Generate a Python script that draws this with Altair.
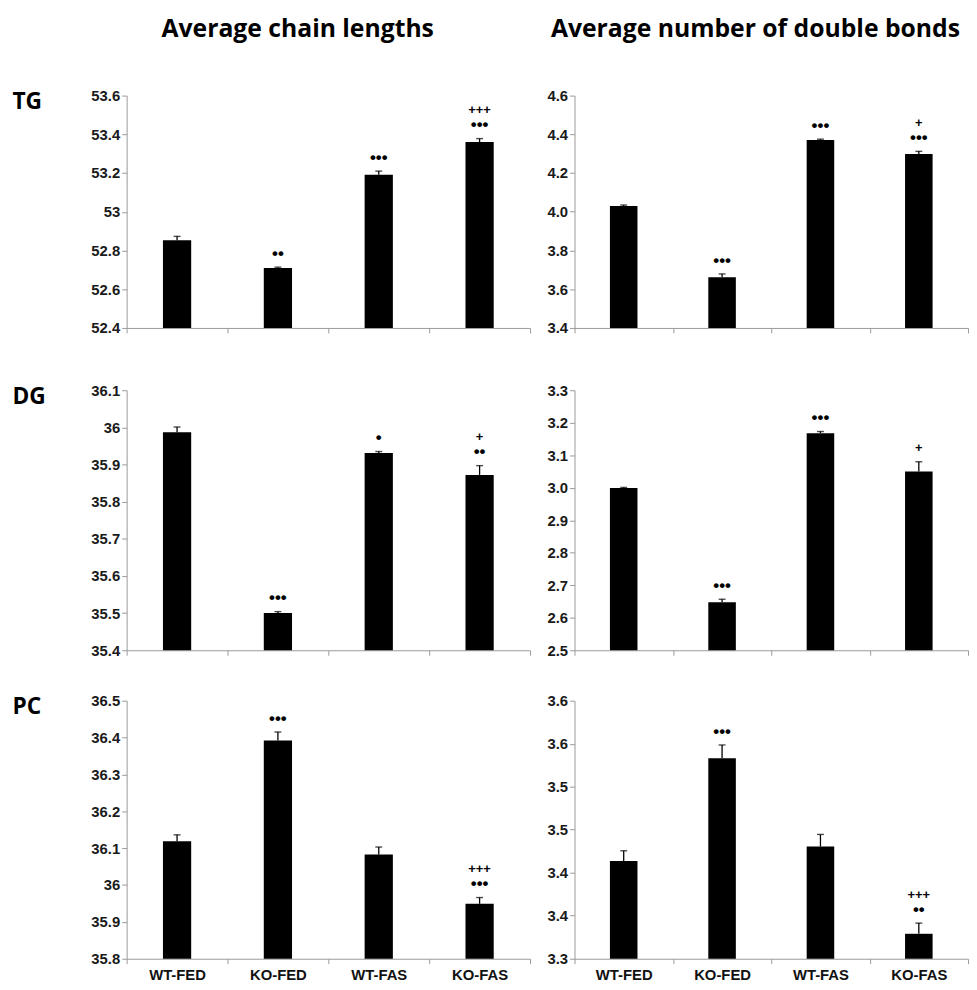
import altair as alt
import pandas as pd

groups = ["WT-FED", "KO-FED", "WT-FAS", "KO-FAS"]

# TG
tg_len = [52.853, 52.709, 53.191, 53.360]
tg_len_err = [0.020, 0.005, 0.019, 0.018]
tg_len_sig = ["", "••", "•••", "•••"]
tg_len_sig2 = ["", "", "", "+++"]
tg_len_ticks = [52.4, 52.6, 52.8, 53.0, 53.2, 53.4, 53.6]
tg_len_labels = ["52.4", "52.6", "52.8", "53", "53.2", "53.4", "53.6"]

tg_db = [4.030, 3.662, 4.371, 4.299]
tg_db_err = [0.005, 0.017, 0.004, 0.013]
tg_db_sig = ["", "•••", "•••", "•••"]
tg_db_sig2 = ["", "", "", "+"]
tg_db_ticks = [3.4, 3.6, 3.8, 4.0, 4.2, 4.4, 4.6]
tg_db_labels = ["3.4", "3.6", "3.8", "4.0", "4.2", "4.4", "4.6"]

# DG
dg_len = [35.987, 35.500, 35.931, 35.872]
dg_len_err = [0.014, 0.004, 0.004, 0.025]
dg_len_sig = ["", "•••", "•", "••"]
dg_len_sig2 = ["", "", "", "+"]
dg_len_ticks = [35.4, 35.5, 35.6, 35.7, 35.8, 35.9, 36.0, 36.1]
dg_len_labels = ["35.4", "35.5", "35.6", "35.7", "35.8", "35.9", "36", "36.1"]

dg_db = [2.999, 2.648, 3.168, 3.050]
dg_db_err = [0.002, 0.009, 0.005, 0.030]
dg_db_sig = ["", "•••", "•••", "+"]
dg_db_sig2 = ["", "", "", ""]
dg_db_ticks = [2.5, 2.6, 2.7, 2.8, 2.9, 3.0, 3.1, 3.2, 3.3]
dg_db_labels = ["2.5", "2.6", "2.7", "2.8", "2.9", "3.0", "3.1", "3.2", "3.3"]

# PC
pc_len = [36.119, 36.392, 36.083, 35.949]
pc_len_err = [0.017, 0.023, 0.020, 0.017]
pc_len_sig = ["", "•••", "", "•••"]
pc_len_sig2 = ["", "", "", "+++"]
pc_len_ticks = [35.8, 35.9, 36.0, 36.1, 36.2, 36.3, 36.4, 36.5]
pc_len_labels = ["35.8", "35.9", "36", "36.1", "36.2", "36.3", "36.4", "36.5"]

pc_db = [3.4135, 3.533, 3.4305, 3.329]
pc_db_err = [0.012, 0.0155, 0.014, 0.0124]
pc_db_sig = ["", "•••", "", "••"]
pc_db_sig2 = ["", "", "", "+++"]
pc_db_ticks = [3.30, 3.35, 3.40, 3.45, 3.50, 3.55, 3.60]
pc_db_labels = ["3.3", "3.4", "3.4", "3.5", "3.5", "3.6", "3.6"]

col_titles = ["Average chain lengths", "Average number of double bonds"]
row_labels = ["TG", "DG", "PC"]

AXIS_GRAY = "#9a9a9a"
LABEL_FONT = "Liberation Sans"
TITLE_FONT = "Open Sans"


def panel(vals, errs, sig1, sig2, ticks, labels, width, height, show_x,
          row_label=None, col_title=None, title_dx=0):
    domain = [ticks[0], ticks[-1]]
    df = pd.DataFrame({
        "group": groups,
        "value": vals,
        "top": [v + e for v, e in zip(vals, errs)],
        "base": [ticks[0]] * len(groups),
        "sig1": sig1,
        "sig2": sig2,
    })
    step = ticks[1] - ticks[0]
    label_expr = ("[" + ",".join(f"'{l}'" for l in labels) + "]"
                  + f"[round((datum.value - {ticks[0]}) / {step})]")
    yscale = alt.Scale(domain=domain, zero=False, nice=False)
    xaxis = alt.Axis(title=None, labels=show_x, tickBand="extent",
                     domainColor=AXIS_GRAY, tickColor=AXIS_GRAY, tickSize=5,
                     labelFont=LABEL_FONT, labelFontSize=15, labelFontWeight="bold",
                     labelColor="#111111", labelPadding=4, labelAngle=0)
    x = alt.X("group:N", sort=groups,
              scale=alt.Scale(paddingInner=0, paddingOuter=0), axis=xaxis)
    axis_kw = dict(values=ticks, labelExpr=label_expr, grid=False,
                   domainColor=AXIS_GRAY, tickColor=AXIS_GRAY, tickSize=5,
                   labelFont=LABEL_FONT, labelFontSize=15, labelFontWeight="bold",
                   labelColor="#1a1a1a", labelPadding=2)
    if row_label:
        axis_kw.update(title=row_label, titleAngle=0, titleX=-116, titleY=13,
                       titleAlign="left", titleBaseline="alphabetic",
                       titleFont=TITLE_FONT, titleFontSize=23,
                       titleFontWeight="bold", titleColor="black")
    else:
        axis_kw.update(title=None)
    yaxis = alt.Axis(**axis_kw)

    def Y(field):
        return alt.Y(field, scale=yscale, axis=yaxis)

    base = alt.Chart(df)
    bars = base.mark_bar(color="black", width=alt.RelativeBandSize(0.28)).encode(
        x=x, y=Y("value:Q"), y2="base:Q")
    err = base.mark_rule(color="black", strokeWidth=1.3).encode(
        x=x, y=Y("value:Q"), y2="top:Q")
    cap = base.mark_tick(color="black", size=7, thickness=1.4,
                         orient="horizontal").encode(x=x, y=Y("top:Q"))
    t1 = base.mark_text(dy=-13.5, fontWeight="bold",
                        font=LABEL_FONT, color="black", baseline="middle").encode(
        x=x, y=Y("top:Q"), text="sig1:N",
        size=alt.condition("indexof(datum.sig1, '+') >= 0",
                           alt.value(13), alt.value(17)))
    t2 = base.mark_text(dy=-28.5, fontSize=13, fontWeight="bold",
                        font=LABEL_FONT, color="black", baseline="middle").encode(
        x=x, y=Y("top:Q"), text="sig2:N")
    props = dict(width=width, height=height)
    if col_title:
        props["title"] = alt.TitleParams(col_title, font=TITLE_FONT, fontSize=25,
                                         fontWeight="bold", anchor="middle",
                                         dx=title_dx, offset=47, color="black")
    return alt.layer(bars, err, cap, t1, t2).properties(**props)


LW, RW = 408, 398
H1, H2, H3 = 235, 263, 261

p11 = panel(tg_len, tg_len_err, tg_len_sig, tg_len_sig2, tg_len_ticks, tg_len_labels,
            LW, H1, False, row_labels[0], col_titles[0], -31)
p12 = panel(tg_db, tg_db_err, tg_db_sig, tg_db_sig2, tg_db_ticks, tg_db_labels,
            RW, H1, False, None, col_titles[1], -16)
p21 = panel(dg_len, dg_len_err, dg_len_sig, dg_len_sig2, dg_len_ticks, dg_len_labels,
            LW, H2, False, row_labels[1])
p22 = panel(dg_db, dg_db_err, dg_db_sig, dg_db_sig2, dg_db_ticks, dg_db_labels,
            RW, H2, False)
p31 = panel(pc_len, pc_len_err, pc_len_sig, pc_len_sig2, pc_len_ticks, pc_len_labels,
            LW, H3, True, row_labels[2])
p32 = panel(pc_db, pc_db_err, pc_db_sig, pc_db_sig2, pc_db_ticks, pc_db_labels,
            RW, H3, True)

SP = 16
row1 = alt.hconcat(p11, p12, spacing=SP)
row2 = alt.hconcat(p21, p22, spacing=SP)
row3 = alt.hconcat(p31, p32, spacing=SP)

chart = alt.vconcat(alt.vconcat(row1, row2, spacing=48), row3, spacing=36).properties(
    padding={"left": 4, "top": 4, "right": 0, "bottom": 0},
    background="white",
).configure_view(stroke=None)

chart.save("out.html", embed_options={"renderer": "svg", "actions": False})
